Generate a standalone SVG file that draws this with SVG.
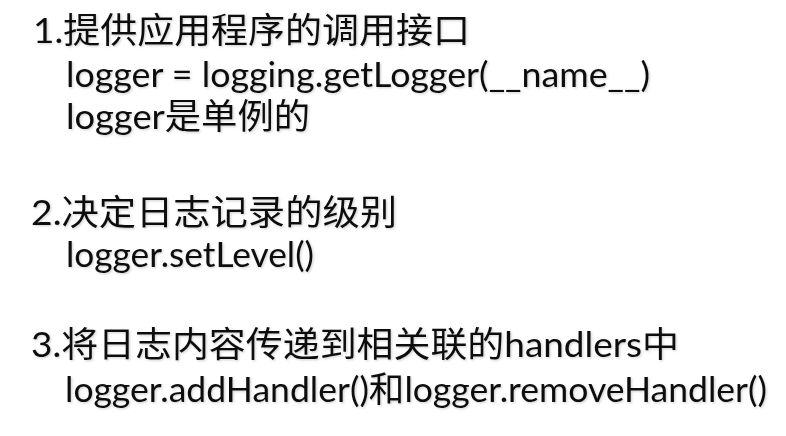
<svg xmlns="http://www.w3.org/2000/svg" width="786" height="436" viewBox="0 0 786 436">
<defs>
<filter id="sh" x="-5%" y="-20%" width="110%" height="150%">
<feDropShadow dx="1.2" dy="1.2" stdDeviation="0.8" flood-color="#000" flood-opacity="0.18"/>
</filter>
<style>
.t{font-family:"Lato","Noto Sans CJK SC",sans-serif;font-size:35px;fill:#111;}
</style>
</defs>
<rect width="786" height="436" fill="#fff"/>
<g id="content" filter="url(#sh)">
<g id="item1">
<text class="t" x="33" y="43" textLength="437" lengthAdjust="spacingAndGlyphs">1.提供应用程序的调用接口</text>
<text class="t" x="66" y="87" textLength="584" lengthAdjust="spacingAndGlyphs">logger = logging.getLogger(__name__)</text>
<text class="t" x="66" y="129" textLength="244" lengthAdjust="spacingAndGlyphs">logger是单例的</text>
</g>
<g id="item2">
<text class="t" x="31" y="225" textLength="366" lengthAdjust="spacingAndGlyphs">2.决定日志记录的级别</text>
<text class="t" x="66" y="267" textLength="248" lengthAdjust="spacingAndGlyphs">logger.setLevel()</text>
</g>
<g id="item3">
<text class="t" x="31" y="357" textLength="648" lengthAdjust="spacingAndGlyphs">3.将日志内容传递到相关联的handlers中</text>
<text class="t" x="65" y="402" textLength="702" lengthAdjust="spacingAndGlyphs">logger.addHandler()和logger.removeHandler()</text>
</g>
</g>
</svg>
